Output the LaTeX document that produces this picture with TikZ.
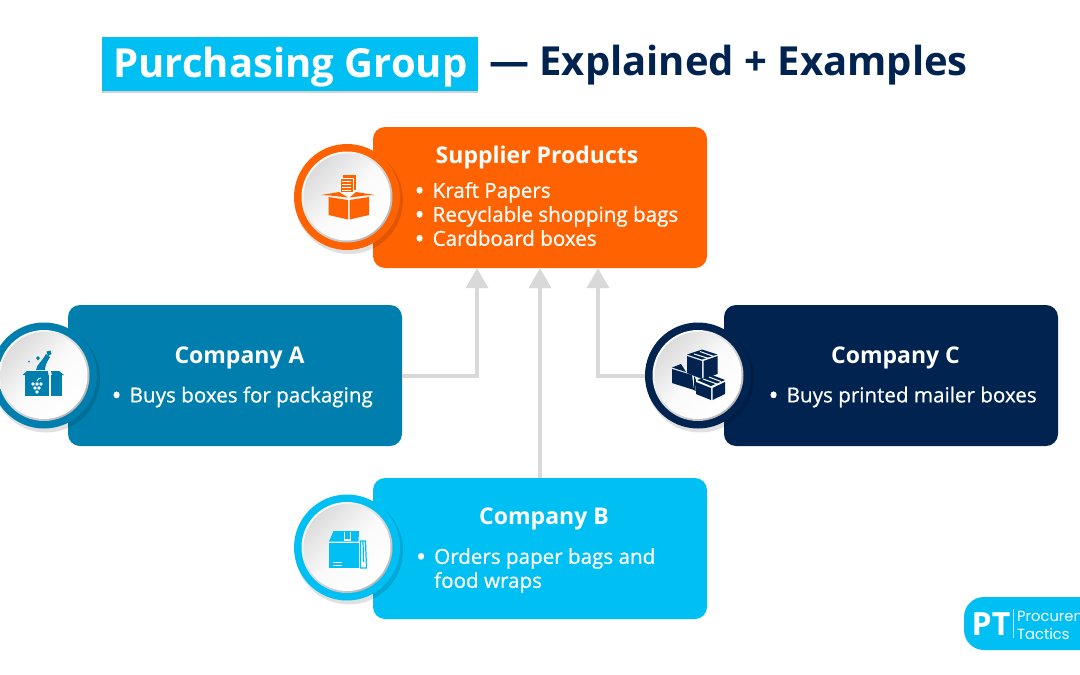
\documentclass[tikz,border=0pt]{standalone}
\usepackage{fontspec}
\setmainfont{Open Sans}
\newfontfamily\semifont{Open Sans}[FakeBold=0.7]
\newfontfamily\logofont{Poppins}
\usetikzlibrary{arrows.meta}
\definecolor{orangeC}{HTML}{FF6200}
\definecolor{tealC}{HTML}{007FAE}
\definecolor{navyC}{HTML}{00234F}
\definecolor{cyanC}{HTML}{00BFF3}
\definecolor{linkC}{HTML}{D9D9D9}
\newcommand{\bul}[1]{\makebox[17pt][l]{\textbf{•}}#1}
\tikzset{
  card/.style={rounded corners=12pt,minimum width=334pt,minimum height=141pt,inner sep=0pt,fill=#1},
  head/.style={text=white,font=\bfseries\fontsize{23}{26}\selectfont,inner sep=0pt,anchor=center},
  items/.style={text=white,font=\semifont\fontsize{20.6}{24}\selectfont,inner sep=0pt,align=left,anchor=west},
  link/.style={draw=linkC,line width=4pt,-{Triangle[length=20pt,width=22pt,fill=linkC]}},
}
\newcommand{\medal}[3]{%
  \fill[black,opacity=.12] (#1+2,#2+3) circle (54);
  \fill[#3] (#1,#2) circle (53);
  \shade[shading=axis,top color=white,bottom color=white!72!black,shading angle=45] (#1,#2) circle (45.5);
  \shade[shading=axis,top color=white!86!black,bottom color=white,middle color=white!98!black,shading angle=45] (#1,#2) circle (43.5);
}
\begin{document}
\begin{tikzpicture}[x=1pt,y=-1pt]
\useasboundingbox (0,0) rectangle (1080,675);
\fill[white] (0,0) rectangle (1080,675);
% title
\fill[black,opacity=.18] (102,39) rectangle (478,93);
\node[fill=cyanC,minimum width=376pt,minimum height=54pt,inner sep=0pt] (t0) at (290,64) {};
\node[text=white,font=\bfseries\fontsize{40}{44}\selectfont,inner sep=0pt] (t1) at (290.5,67) {Purchasing Group};
\node[text=navyC,font=\bfseries\fontsize{40}{44}\selectfont,inner sep=0pt,anchor=west] (t2) at (489,65) {— Explained + Examples};
% cards
\node[card=orangeC] (s) at (540,197.5) {};
\node[card=tealC] (a) at (235,375.5) {};
\node[card=navyC] (c) at (891,375.5) {};
\node[card=cyanC] (b) at (540,548.5) {};
% connectors
\coordinate (s1) at ([xshift=-63pt]s.south);
\coordinate (s3) at ([xshift=58pt]s.south);
\draw[link] (a.east) -| (s1);
\draw[link] (b.north) -- (s.south);
\draw[link] (c.west) -| (s3);
% medals
\medal{347}{197}{orangeC}
\medal{44}{375.5}{tealC}
\medal{698}{375.5}{navyC}
\medal{347}{547.5}{cyanC}
% supplier icon
\fill[orangeC] (343,175) rectangle (356,190);
\fill[orangeC,draw=white,line width=.5pt] (340,178) rectangle (353,192);
\foreach \yy in {181,184,187,190}{\fill[white] (342,\yy) rectangle (351,\yy+1.4);}
\fill[orangeC] (328.5,197) -- (348,200) -- (348,219.5) -- (328.5,215) -- cycle;
\fill[orangeC] (349.5,200) -- (369,197) -- (369,215) -- (349.5,219.5) -- cycle;
\fill[orangeC] (321,195) -- (339,192) -- (348,197.5) -- (330,195.5) -- cycle;
\fill[orangeC] (375,195) -- (356,192) -- (349.5,197.5) -- (366,195.5) -- cycle;
% company A icon
\fill[tealC] (25,375) rectangle (48.5,396);
\fill[tealC] (50.5,375) rectangle (62,396);
\fill[tealC] (22.5,375) -- (27,371) -- (48,371) -- (48.5,375) -- cycle;
\fill[tealC] (51,371) -- (59,371) -- (64,375) -- (52,375) -- cycle;
\fill[tealC] (36,370) .. controls (37,364) and (41,363) .. (46,354) -- (50,357) .. controls (46,363) and (45,367) .. (45,370) -- cycle;
\fill[tealC] (46.5,351.5) -- (50.5,350.5) -- (51.5,354) -- (48,356) -- cycle;
\fill[tealC] (36,358) -- (38,356) -- (40,358) -- (38,360.5) -- cycle;
\fill[tealC] (29,361.5) circle (1);
\foreach \xx/\yy in {33/384,37/384,41/384,35/388,39/388,37/392}{\fill[white] (\xx,\yy) circle (1.9);}
\draw[white,line width=.8pt] (37,381) .. controls (38,379) and (39,378) .. (41,378);
% company C icon
\fill[navyC] (687,356) -- (702,361) -- (702,379) -- (687,373) -- cycle;
\fill[navyC] (703.5,361) -- (717.5,356) -- (717.5,374) -- (703.5,379) -- cycle;
\fill[navyC] (687,354.5) -- (702,349.5) -- (717.5,354.5) -- (702,359.5) -- cycle;
\fill[navyC] (672,369) -- (692,375) -- (694,390) -- (672,383) -- cycle;
\fill[navyC] (672,367.5) -- (681,364) -- (686,372) -- cycle;
\fill[navyC] (696,380) -- (695.5,391) -- (694,390) -- (694,376) -- cycle;
\fill[navyC] (696,382) -- (711,388) -- (711,400) -- (696,394) -- cycle;
\fill[navyC] (712.5,388) -- (725,382) -- (725,394) -- (712.5,400) -- cycle;
\fill[navyC] (697,380) -- (712,375) -- (725,380) -- (711,386) -- cycle;
\draw[white,line width=1pt] (694,354) -- (709,358.5) (700,351.5) -- (714,356.5);
\draw[white,line width=1pt] (703,379) -- (717,384) (709,377) -- (721,381.5);
% company B icon
\fill[cyanC] (329,543) rectangle (358.5,568);
\fill[cyanC] (333.5,531) -- (359,531) -- (358.5,541.5) -- (329,541.5) -- cycle;
\fill[white] (343.5,532) rectangle (344.5,540);
\fill[white] (349.5,532) rectangle (350.5,540);
\fill[white] (343.5,539) rectangle (350.5,540.5);
\fill[white] (333,561.5) rectangle (342,562.8);
\fill[white] (333,564.5) rectangle (342,565.8);
\draw[cyanC,line width=1.2pt,line join=round] (360.5,541) -- (365.5,541) -- (366.5,568) -- (360.5,568) -- cycle (363,541) -- (363.5,562);
% texts
\node[head] (st) at (537,158) {Supplier Products};
\node[items] (sl) at (415.5,214) {\bul{Kraft Papers}\\\bul{Recyclable shopping bags}\\\bul{Cardboard boxes}};
\node[head] (at) at (239.5,358) {Company A};
\node[items] (al) at (112.5,397) {\bul{Buys boxes for packaging}};
\node[head] (ct) at (895.5,358) {Company C};
\node[items] (cl) at (769.5,397) {\bul{Buys printed mailer boxes}};
\node[head] (bt) at (544,519) {Company B};
\node[items] (bl) at (417,570.5) {\bul{Orders paper bags and}\\\hspace*{17pt}food wraps};
% logo
\fill[cyanC,rounded corners=20pt] (964,597) rectangle (1110,650);
\node[text=white,font=\bfseries\fontsize{32}{34}\selectfont,inner sep=0pt] (pt) at (991,624) {PT};
\fill[white,opacity=.7] (1013,609) rectangle (1013.8,638);
\node[text=white,font=\logofont\fontsize{14.7}{18}\selectfont,inner sep=0pt,anchor=west,align=left] (lg) at (1017,625) {Procurement\\Tactics};
\end{tikzpicture}
\end{document}
